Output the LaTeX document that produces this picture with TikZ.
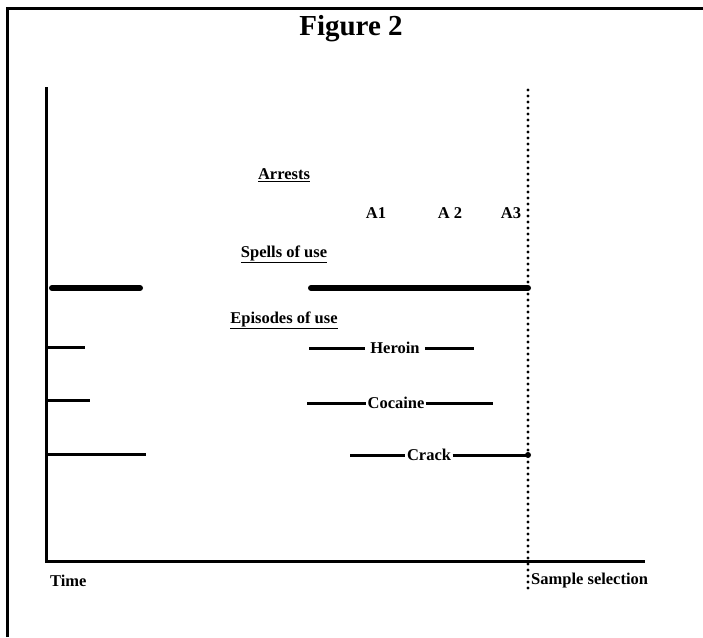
\documentclass[tikz,border=0pt]{standalone}
\usepackage{fontspec}
\setmainfont{Liberation Serif}
\usepackage{tikz}
\usetikzlibrary{
  positioning}

\begin{document}
\begin{tikzpicture}[x=1pt,y=-1pt,
  lbl/.style={font=\fontsize{16.5}{18}\selectfont\bfseries,inner sep=2pt},
  axis/.style={line width=3pt},
  spell/.style={line width=6pt,line cap=round},
  episode/.style={line width=3pt},
  selection/.style={line width=3.2pt,line cap=round,dash pattern=on 0pt off 6pt}]
\useasboundingbox (0,0) rectangle (703,637);
\draw[line width=3pt] (7,637) -- (7,8) -- (703,8);
\node[font=\fontsize{29}{32}\selectfont\bfseries] (title) at (351,29) {Figure 2};

\coordinate (origin) at (46,561);
\coordinate (ytop) at (46,87);
\coordinate (xend) at (645,561);
\draw[axis] (ytop) -- (origin) -- (xend);
\coordinate (seltop) at (528,90);
\coordinate (selbot) at (528,592);
\draw[selection] (seltop) -- (selbot);

\node[lbl] (arrests) at (284,175) {\underline{Arrests}};
\node[lbl] (a1) at (376,213) {A1};
\node[lbl] (a2) at (450,213) {A 2};
\node[lbl] (a3) at (511,213) {A3};
\node[lbl] (spells) at (284,254) {\underline{Spells of use}};
\node[lbl] (episodes) at (284,320) {\underline{Episodes of use}};

\coordinate (sp1) at (52,288);
\coordinate (sp2) at (140,288);
\coordinate (sp3) at (311,288);
\coordinate (sp4) at (528,288);
\draw[spell] (sp1) -- (sp2);
\draw[spell] (sp3) -- (sp4);

\node[lbl,inner sep=5pt] (heroin) at (395,348) {Heroin};
\coordinate (h0) at (46,347);
\coordinate (h0e) at (85,347);
\coordinate (h1) at (309,348);
\coordinate (h2) at (474,348);
\draw[episode] (h0) -- (h0e);
\draw[episode] (h1) -- (heroin) -- (h2);

\node[lbl,inner sep=1pt] (cocaine) at (396,403) {Cocaine};
\coordinate (c0) at (46,400);
\coordinate (c0e) at (90,400);
\coordinate (c1) at (307,403);
\coordinate (c2) at (493,403);
\draw[episode] (c0) -- (c0e);
\draw[episode] (c1) -- (cocaine) -- (c2);

\node[lbl,inner sep=1.5pt] (crack) at (429,455) {Crack};
\coordinate (k0) at (46,454);
\coordinate (k0e) at (146,454);
\coordinate (k1) at (350,455);
\coordinate (k2) at (528,455);
\draw[episode] (k0) -- (k0e);
\draw[episode] (k1) -- (crack) -- (k2);
\fill (k2) circle[radius=3pt];

\node[lbl,anchor=west,inner sep=0pt] (time) at (50,581) {Time};
\node[lbl,anchor=west,inner sep=0pt] (sample) at (531,581) {Sample selection};
\end{tikzpicture}
\end{document}
